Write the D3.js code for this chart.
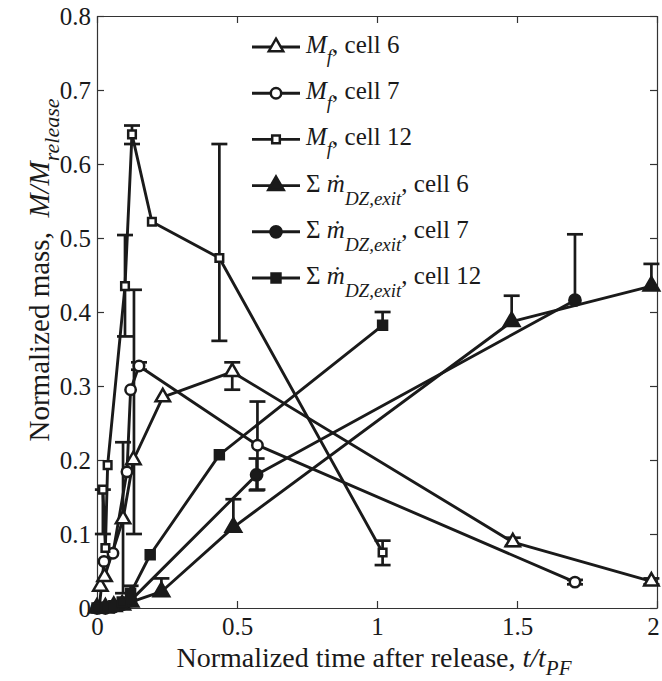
<!DOCTYPE html>
<html>
<head>
<meta charset="utf-8">
<script src="https://cdn.jsdelivr.net/npm/d3@7"></script>
<style>
  body { margin: 0; background: #fff; }
  svg text { font-family: "Liberation Serif", "Times New Roman", serif; fill: #1a1a1a; }
</style>
</head>
<body>
<script>
//-----------------Data (t/t_PF, M/M_release)----------------
const mfCell6 = [[0.012, 0.029], [0.027, 0.042], [0.093, 0.12], [0.13, 0.2], [0.235, 0.285], [0.483, 0.319], [1.485, 0.089], [1.98, 0.036]];
const mfCell7 = [[0.008, 0.0], [0.025, 0.063], [0.057, 0.074], [0.107, 0.184], [0.12, 0.295], [0.15, 0.327], [0.573, 0.22], [1.707, 0.035]];
const mfCell12 = [[0.021, 0.16], [0.03, 0.081], [0.038, 0.193], [0.1, 0.435], [0.125, 0.64], [0.196, 0.522], [0.437, 0.473], [1.02, 0.075]];
const sumCell6 = [[0, 0], [0.03, 0.0], [0.06, 0.002], [0.09, 0.004], [0.12, 0.008], [0.23, 0.022], [0.487, 0.109], [1.481, 0.387], [1.98, 0.435]];
const sumCell7 = [[0, 0], [0.03, 0.0], [0.06, 0.002], [0.09, 0.005], [0.12, 0.01], [0.57, 0.18], [1.707, 0.416]];
const sumCell12 = [[0, 0], [0.03, 0.001], [0.06, 0.003], [0.09, 0.008], [0.12, 0.02], [0.19, 0.072], [0.437, 0.207], [1.02, 0.382]];

// error bars: [t, low, high]
const mfCell6Err = [[0.093, 0.02, 0.224], [0.483, 0.295, 0.332], [1.485, 0.084, 0.095], [1.98, 0.032, 0.04]];
const mfCell7Err = [[0.132, 0.1, 0.43], [0.15, 0.322, 0.332], [0.573, 0.16, 0.279], [1.707, 0.032, 0.038]];
const mfCell12Err = [[0.1, 0.367, 0.504], [0.125, 0.627, 0.652], [0.437, 0.361, 0.627], [1.02, 0.058, 0.091], [0.021, 0.1, 0.16]];
const sumCell6Err = [[0.23, 0.022, 0.04], [0.487, 0.109, 0.147], [1.481, 0.387, 0.422], [1.98, 0.435, 0.465]];
const sumCell7Err = [[0.57, 0.159, 0.202], [1.707, 0.416, 0.505]];
const sumCell12Err = [[0.12, 0.02, 0.03], [1.02, 0.382, 0.4]];

const xTicks = [0, 0.5, 1, 1.5, 2];
const xTickLabels = ["0", "0.5", "1", "1.5", "2"];
const yTicks = [0, 0.1, 0.2, 0.3, 0.4, 0.5, 0.6, 0.7, 0.8];
const yTickLabels = ["0", "0.1", "0.2", "0.3", "0.4", "0.5", "0.6", "0.7", "0.8"];
const cellNames = ["cell 6", "cell 7", "cell 12"];

//-----------------Svg---------------------
const width = 662;
const height = 681;
const ink = "#1a1a1a";
const serif = "'Liberation Serif', 'Times New Roman', serif";

const svg = d3.select("body").append("svg").attr("width", width).attr("height", height);
svg.append("rect").attr("width", width).attr("height", height).attr("fill", "#fff");

const x = d3.scaleLinear().domain([0, 2]).range([97, 657]);
const y = d3.scaleLinear().domain([0, 0.8]).range([608, 16]);

//-----------------Axes---------------------
const tickLen = 7;
const axisStyle = (g) => {
  g.attr("font-family", serif).attr("font-size", 25);
  g.selectAll("path.domain").attr("stroke", "#333").attr("stroke-width", 1.2);
  g.selectAll(".tick line").attr("stroke", "#333").attr("stroke-width", 1.2);
  g.selectAll("text").attr("fill", ink);
};

const xAxisG = svg.append("g").attr("transform", `translate(0,${y(0)})`)
  .call(d3.axisBottom(x).tickValues(xTicks).tickFormat((d, i) => xTickLabels[i]).tickSizeInner(-tickLen).tickSizeOuter(0).tickPadding(9))
  .call(axisStyle);
// last label sits against the right edge
xAxisG.selectAll(".tick text").filter((d) => d === 2).attr("dx", -4);

svg.append("g").attr("transform", `translate(0,${y(0.8)})`)
  .call(d3.axisTop(x).tickValues(xTicks).tickFormat("").tickSizeInner(-tickLen).tickSizeOuter(0))
  .call(axisStyle);
svg.append("g").attr("transform", `translate(${x(0)},0)`)
  .call(d3.axisLeft(y).tickValues(yTicks).tickFormat((d, i) => yTickLabels[i]).tickSizeInner(-tickLen).tickSizeOuter(0).tickPadding(6))
  .call(axisStyle);
svg.append("g").attr("transform", `translate(${x(2)},0)`)
  .call(d3.axisRight(y).tickValues(yTicks).tickFormat("").tickSizeInner(-tickLen).tickSizeOuter(0))
  .call(axisStyle);

//-----------------Series---------------------
const series = [
  { data: mfCell6, err: mfCell6Err, shape: d3.symbolTriangle, size: 90, filled: false, kind: "mf", cell: cellNames[0] },
  { data: mfCell7, err: mfCell7Err, shape: d3.symbolCircle, size: 85, filled: false, kind: "mf", cell: cellNames[1] },
  { data: mfCell12, err: mfCell12Err, shape: d3.symbolSquare, size: 58, filled: false, kind: "mf", cell: cellNames[2] },
  { data: sumCell6, err: sumCell6Err, shape: d3.symbolTriangle, size: 105, filled: true, kind: "sum", cell: cellNames[0] },
  { data: sumCell7, err: sumCell7Err, shape: d3.symbolCircle, size: 100, filled: true, kind: "sum", cell: cellNames[1] },
  { data: sumCell12, err: sumCell12Err, shape: d3.symbolSquare, size: 80, filled: true, kind: "sum", cell: cellNames[2] },
];

const line = d3.line().x((d) => x(d[0])).y((d) => y(d[1]));
const capW = 8;

series.forEach((s) => {
  svg.append("path")
    .attr("d", line(s.data))
    .attr("fill", "none")
    .attr("stroke", ink)
    .attr("stroke-width", 2.9)
    .attr("stroke-linejoin", "round");

  const eb = svg.append("g").attr("stroke", ink).attr("stroke-width", 2.7);
  s.err.forEach((e) => {
    const cx = x(e[0]);
    eb.append("line").attr("x1", cx).attr("x2", cx).attr("y1", y(e[1])).attr("y2", y(e[2]));
    eb.append("line").attr("x1", cx - capW).attr("x2", cx + capW).attr("y1", y(e[2])).attr("y2", y(e[2]));
    const onPoint = s.data.some((p) => Math.abs(p[0] - e[0]) < 1e-6 && Math.abs(p[1] - e[1]) < 1e-6);
    if (!onPoint) {
      eb.append("line").attr("x1", cx - capW).attr("x2", cx + capW).attr("y1", y(e[1])).attr("y2", y(e[1]));
    }
  });
});

series.forEach((s) => {
  svg.append("g").selectAll("path")
    .data(s.data)
    .enter()
    .append("path")
    .attr("d", d3.symbol().type(s.shape).size(s.size))
    .attr("transform", (d) => `translate(${x(d[0])},${y(d[1])})`)
    .attr("fill", s.filled ? ink : "#fff")
    .attr("stroke", ink)
    .attr("stroke-width", 2.5);
});

//-----------------Legend---------------------
const legend = svg.append("g");
const rowStep = 46.2;
series.forEach((s, i) => {
  const ry = 47 + i * rowStep;
  legend.append("line").attr("x1", 252).attr("x2", 300).attr("y1", ry).attr("y2", ry)
    .attr("stroke", ink).attr("stroke-width", 2.9);
  legend.append("path")
    .attr("d", d3.symbol().type(s.shape).size(s.size))
    .attr("transform", `translate(276,${ry})`)
    .attr("fill", s.filled ? ink : "#fff")
    .attr("stroke", ink)
    .attr("stroke-width", 2.5);

  const t = legend.append("text").attr("x", 306).attr("y", ry + 6).attr("font-size", 25);
  if (s.kind === "mf") {
    t.append("tspan").attr("font-style", "italic").text("M");
    t.append("tspan").attr("font-style", "italic").attr("font-size", 19).attr("dy", 10).text("f");
    t.append("tspan").attr("dy", -10).text(",\u00A0" + s.cell);
  } else {
    t.append("tspan").text("\u03A3 ");
    t.append("tspan").attr("font-style", "italic").text("\u1E41");
    t.append("tspan").attr("font-style", "italic").attr("font-size", 19).attr("dy", 13).text("DZ,exit");
    t.append("tspan").attr("dy", -13).text(",\u00A0" + s.cell);
  }
});

//-----------------Axis labels---------------------
const xLabel = svg.append("text")
  .attr("x", 374)
  .attr("y", 667)
  .attr("text-anchor", "middle")
  .attr("font-size", 28);
xLabel.append("tspan").text("Normalized time after release, ");
xLabel.append("tspan").attr("font-style", "italic").text("t/t");
xLabel.append("tspan").attr("font-style", "italic").attr("font-size", 21).attr("dy", 8).text("PF");

const yLabel = svg.append("text")
  .attr("transform", "translate(49,270) rotate(-90)")
  .attr("text-anchor", "middle")
  .attr("font-size", 29);
yLabel.append("tspan").text("Normalized mass,\u00A0\u00A0");
yLabel.append("tspan").attr("font-style", "italic").text("M/M");
yLabel.append("tspan").attr("font-style", "italic").attr("font-size", 22).attr("dy", 10).text("release");
</script>
</body>
</html>
